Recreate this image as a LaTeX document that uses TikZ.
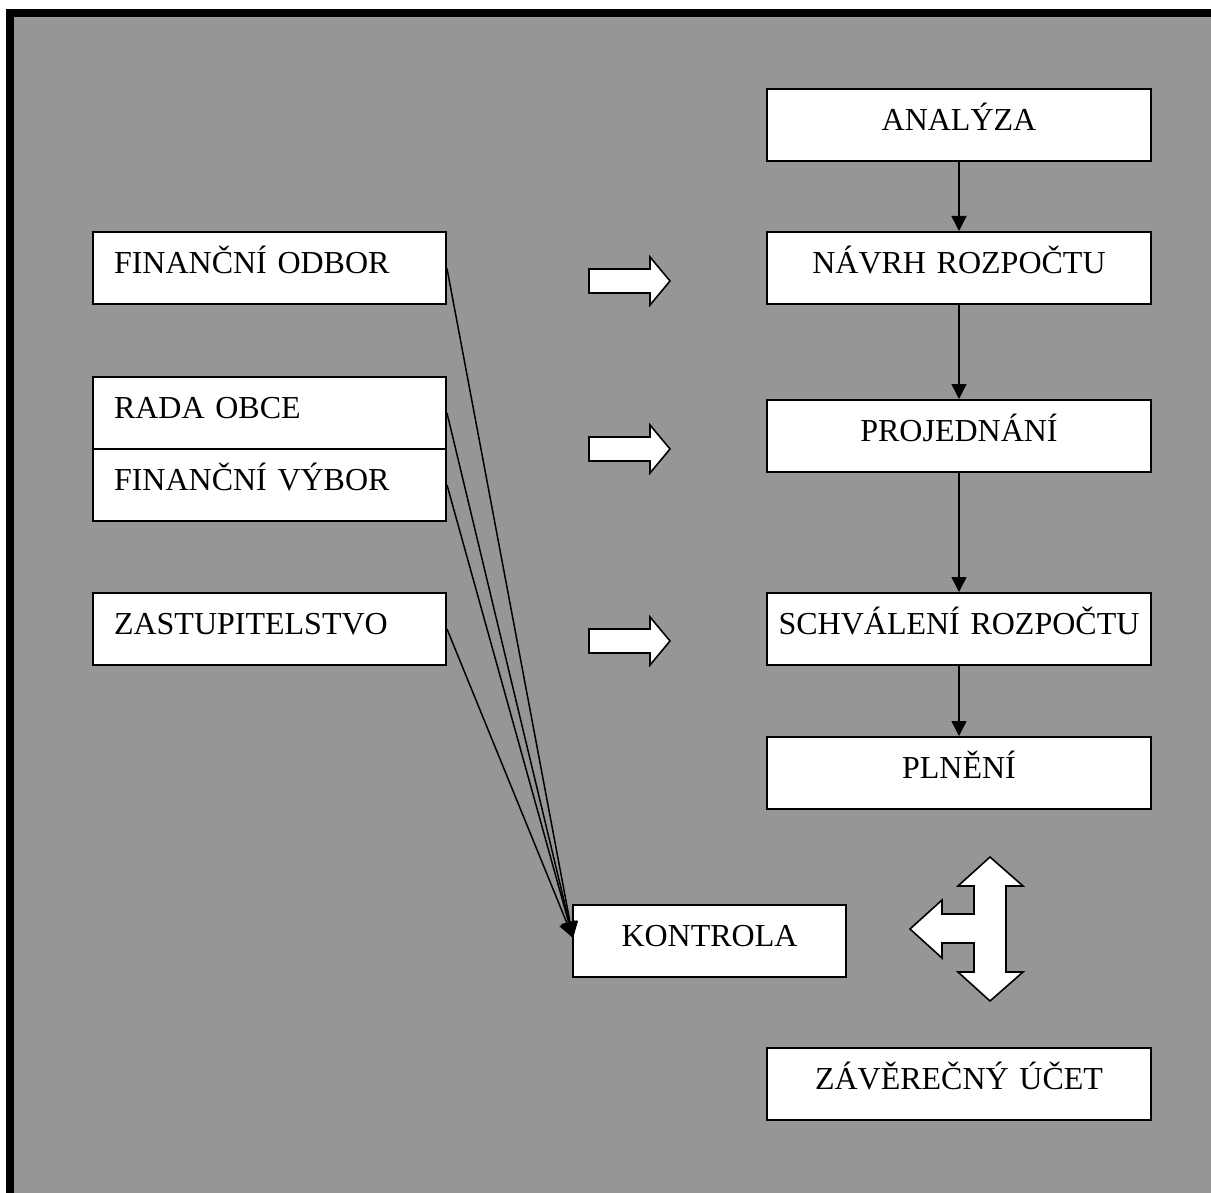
\documentclass[tikz,border=0pt]{standalone}
\usepackage{fontspec}
\setmainfont{Liberation Serif}
\usetikzlibrary{arrows.meta}
\definecolor{bggray}{RGB}{150,150,150}
\begin{document}
\begin{tikzpicture}[x=1pt,y=-1pt,
  boxbase/.style={draw=black,line width=2pt,fill=white,inner ysep=0pt,
    minimum height=72pt,text height=22pt,text depth=11pt,
    font=\fontsize{32}{38}\selectfont},
  lbox/.style={boxbase,inner xsep=21pt,text width=311pt,align=left},
  rbox/.style={boxbase,inner xsep=0pt,text width=384pt,align=center},
  kbox/.style={boxbase,inner xsep=0pt,text width=273pt,align=center},
  flow/.style={line width=1.6pt,-{Triangle[width=15pt,length=15pt]}},
  conv/.style={line width=1.5pt,-{Triangle[width=16pt,length=16pt]}},
  hollow/.style={draw=black,line width=1.6pt,fill=white,line join=miter}]
\useasboundingbox (0,0) rectangle (1211,1193);
\fill[white] (0,0) rectangle (1211,1193);
\fill[black] (6,9) rectangle (1211,1193);
\fill[bggray] (14,17) rectangle (1211,1193);

% right column
\node[rbox] (ana) at (959,125) {ANALÝZA};
\node[rbox] (nav) at (959,268) {NÁVRH ROZPOČTU};
\node[rbox] (pro) at (959,436) {PROJEDNÁNÍ};
\node[rbox] (sch) at (959,629) {SCHVÁLENÍ ROZPOČTU};
\node[rbox] (pln) at (959,773) {PLNĚNÍ};
\node[rbox] (zav) at (959,1084) {ZÁVĚREČNÝ ÚČET};

% left column
\node[lbox] (fo) at (269.5,268.5) {FINANČNÍ ODBOR};
\node[lbox] (ro) at (269.5,413) {RADA OBCE};
\node[lbox] (fv) at (269.5,485) {FINANČNÍ VÝBOR};
\node[lbox] (za) at (269.5,629) {ZASTUPITELSTVO};

% control
\node[kbox] (ko) at (709.5,941) {KONTROLA};
\coordinate (kin) at (573,938);

% vertical flow arrows
\draw[flow] (ana.south) -- (nav.north);
\draw[flow] (nav.south) -- (pro.north);
\draw[flow] (pro.south) -- (sch.north);
\draw[flow] (sch.south) -- (pln.north);

% converging lines
\draw[conv] (fo.east) -- (kin);
\draw[conv] (ro.east) -- (kin);
\draw[conv] (fv.east) -- (kin);
\draw[conv] (za.east) -- (kin);

% hollow right arrows
\foreach \yy in {281,449,641}{
  \draw[hollow] (589,\yy-12) -- (650,\yy-12) -- (650,\yy-24) -- (670,\yy)
    -- (650,\yy+24) -- (650,\yy+12) -- (589,\yy+12) -- cycle;
}

% three-way arrow
\draw[hollow] (990,857) -- (1023,886) -- (1006,886) -- (1006,972) -- (1023,972)
  -- (990,1001) -- (958,972) -- (974,972) -- (974,943) -- (942,943) -- (942,958)
  -- (910,929) -- (942,900) -- (942,914) -- (974,914) -- (974,886) -- (958,886) -- cycle;
\end{tikzpicture}
\end{document}
